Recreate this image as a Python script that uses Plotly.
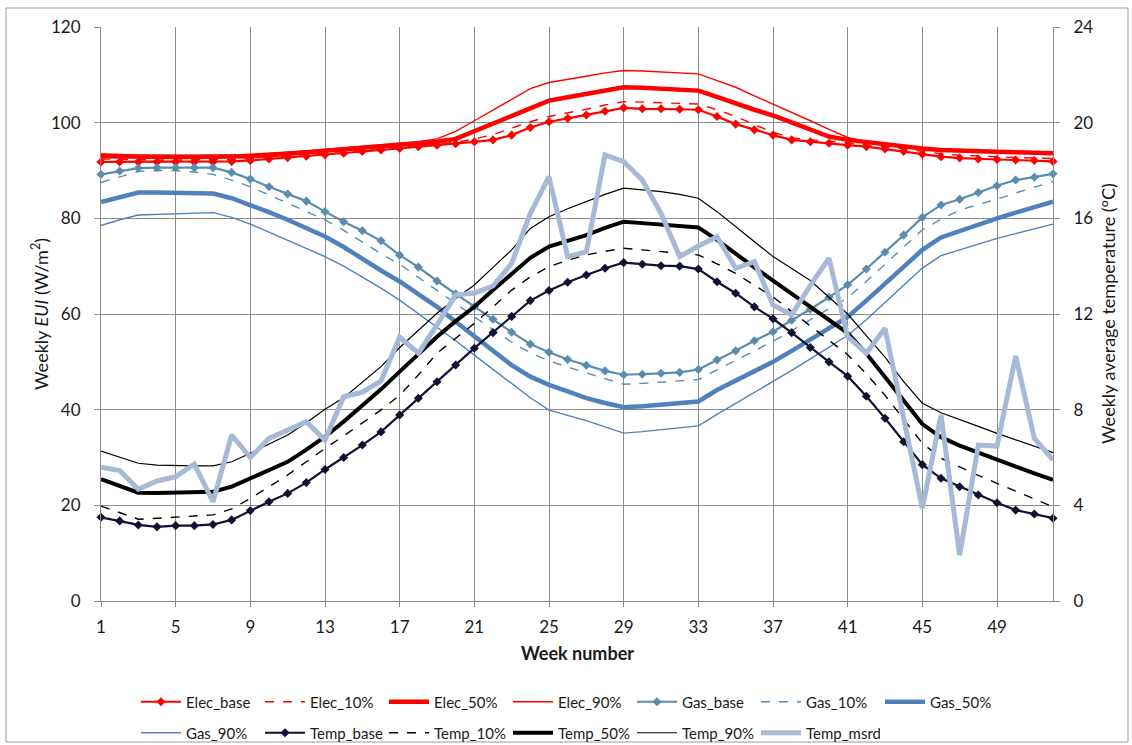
import plotly.graph_objects as go

weeks = list(range(1, 53))

elec_base = [91.8, 91.8, 91.8, 91.8, 91.8, 91.8, 91.8, 91.9, 92.1, 92.4,
             92.7, 93.0, 93.3, 93.6, 94.0, 94.3, 94.6, 95.0, 95.3, 95.6,
             96.0, 96.4, 97.4, 99.0, 100.2, 100.9, 101.6, 102.4, 103.1, 102.9,
             102.9, 102.8, 102.7, 101.3, 99.7, 98.5, 97.4, 96.4, 96.0, 95.7,
             95.3, 95.0, 94.5, 94.0, 93.4, 92.9, 92.6, 92.4, 92.3, 92.2,
             92.1, 91.9]
elec_10 = [92.4, 92.3, 92.2, 92.2, 92.2, 92.2, 92.2, 92.3, 92.5, 92.8,
           93.0, 93.3, 93.6, 93.9, 94.3, 94.6, 94.9, 95.2, 95.5, 95.9,
           96.6, 97.5, 98.8, 100.2, 101.3, 102.0, 102.8, 103.7, 104.4, 104.3,
           104.2, 104.1, 103.9, 102.7, 101.3, 99.6, 98.0, 96.8, 96.4, 96.1,
           95.8, 95.4, 95.0, 94.5, 94.0, 93.5, 93.2, 93.0, 92.8, 92.7,
           92.6, 92.5]
elec_50 = [93.0, 92.9, 92.8, 92.8, 92.8, 92.8, 92.8, 92.8, 93.0, 93.2,
           93.5, 93.8, 94.1, 94.4, 94.7, 95.0, 95.3, 95.6, 96.0, 96.6,
           98.2, 99.9, 101.5, 103.2, 104.6, 105.3, 106.0, 106.8, 107.4, 107.3,
           107.1, 106.9, 106.7, 105.4, 104.0, 102.7, 101.5, 100.0, 98.5, 97.1,
           96.4, 95.9, 95.4, 95.0, 94.6, 94.3, 94.1, 94.0, 93.9, 93.8,
           93.7, 93.6]
elec_90 = [93.5, 93.3, 93.2, 93.2, 93.2, 93.2, 93.2, 93.2, 93.4, 93.6,
           93.9, 94.1, 94.4, 94.7, 95.0, 95.3, 95.6, 96.0, 96.6, 98.2,
           100.4, 102.6, 104.9, 107.1, 108.4, 109.0, 109.7, 110.4, 110.9, 110.8,
           110.6, 110.4, 110.2, 108.8, 107.4, 105.6, 103.9, 102.1, 100.4, 98.6,
           96.9, 96.0, 95.5, 95.1, 94.7, 94.4, 94.2, 94.0, 93.9, 93.8,
           93.7, 93.6]

gas_base = [89.2, 89.9, 90.5, 90.6, 90.6, 90.6, 90.6, 89.6, 88.2, 86.6,
            85.1, 83.6, 81.4, 79.3, 77.4, 75.3, 72.3, 69.8, 66.9, 64.2,
            61.5, 58.9, 56.2, 53.7, 52.0, 50.5, 49.3, 48.1, 47.3, 47.4,
            47.6, 47.8, 48.4, 50.4, 52.3, 54.4, 56.3, 58.7, 61.0, 63.5,
            66.1, 69.4, 72.9, 76.5, 80.2, 82.8, 84.0, 85.4, 86.8, 88.0,
            88.6, 89.3]
gas_10 = [87.5, 88.7, 89.8, 90.0, 90.0, 89.7, 89.2, 88.0, 86.6, 84.9,
          83.2, 81.5, 79.7, 77.5, 75.0, 72.6, 70.4, 67.7, 65.0, 62.2,
          59.4, 56.7, 54.1, 51.9, 50.2, 48.9, 47.7, 46.5, 45.3, 45.5,
          45.8, 46.0, 46.3, 48.3, 50.3, 52.3, 54.3, 56.5, 58.8, 61.1,
          63.4, 66.8, 70.4, 74.0, 77.6, 79.8, 81.7, 82.9, 84.0, 85.3,
          86.5, 87.7]
gas_50 = [83.4, 84.5, 85.4, 85.4, 85.3, 85.2, 85.2, 84.2, 82.8, 81.3,
          79.7, 78.0, 76.2, 74.0, 71.5, 69.1, 66.8, 64.1, 61.5, 58.4,
          55.3, 52.3, 49.3, 46.9, 45.2, 43.8, 42.4, 41.4, 40.5, 40.7,
          41.0, 41.3, 41.7, 44.1, 46.0, 48.0, 50.0, 52.3, 54.6, 56.9,
          59.4, 62.8, 66.4, 70.0, 73.4, 76.0, 77.4, 78.7, 80.0, 81.2,
          82.4, 83.5]
gas_90 = [78.5, 79.7, 80.7, 80.8, 80.9, 81.0, 81.2, 80.2, 78.8, 77.1,
          75.4, 73.7, 72.0, 70.0, 67.7, 65.4, 62.9, 60.1, 57.3, 54.4,
          51.4, 48.4, 45.5, 42.5, 39.9, 38.8, 37.7, 36.4, 35.1, 35.4,
          35.8, 36.2, 36.6, 39.0, 41.3, 43.6, 45.8, 48.2, 50.6, 53.0,
          55.5, 58.8, 62.3, 66.0, 69.6, 72.2, 73.4, 74.6, 75.8, 76.8,
          77.8, 78.8]

temp_base = [3.5, 3.35, 3.18, 3.1, 3.15, 3.15, 3.2, 3.39, 3.78, 4.15,
             4.5, 4.95, 5.5, 6.0, 6.52, 7.07, 7.78, 8.48, 9.17, 9.87,
             10.57, 11.22, 11.9, 12.56, 12.98, 13.33, 13.63, 13.91, 14.15, 14.08,
             14.02, 14.0, 13.88, 13.35, 12.87, 12.3, 11.8, 11.22, 10.6, 10.0,
             9.4, 8.56, 7.64, 6.66, 5.7, 5.13, 4.78, 4.43, 4.11, 3.8,
             3.64, 3.46]
temp_10 = [3.97, 3.68, 3.42, 3.46, 3.5, 3.55, 3.6, 3.85, 4.29, 4.78,
           5.27, 5.82, 6.38, 6.9, 7.45, 7.99, 8.6, 9.45, 10.36, 11.0,
           11.61, 12.3, 13.0, 13.55, 13.98, 14.25, 14.47, 14.62, 14.75, 14.68,
           14.6, 14.55, 14.47, 14.1, 13.7, 13.2, 12.72, 12.1, 11.5, 10.9,
           10.3, 9.5, 8.6, 7.6, 6.6, 5.97, 5.6, 5.25, 4.92, 4.6,
           4.27, 3.94]
temp_50 = [5.1, 4.8, 4.53, 4.52, 4.53, 4.55, 4.57, 4.78, 5.13, 5.47,
           5.82, 6.33, 6.87, 7.5, 8.15, 8.85, 9.59, 10.32, 11.05, 11.7,
           12.3, 13.0, 13.7, 14.35, 14.82, 15.05, 15.3, 15.6, 15.86, 15.8,
           15.75, 15.7, 15.62, 15.1, 14.5, 13.95, 13.4, 12.85, 12.3, 11.75,
           11.2, 10.35, 9.38, 8.4, 7.4, 6.85, 6.5, 6.2, 5.9, 5.62,
           5.34, 5.06]
temp_90 = [6.27, 6.0, 5.76, 5.68, 5.65, 5.65, 5.65, 5.82, 6.18, 6.55,
           6.94, 7.45, 8.02, 8.5, 9.14, 9.8, 10.6, 11.32, 12.03, 12.65,
           13.21, 13.95, 14.68, 15.58, 16.07, 16.4, 16.7, 17.0, 17.26, 17.2,
           17.12, 17.0, 16.84, 16.28, 15.65, 15.0, 14.4, 13.9, 13.4, 12.7,
           12.0, 11.1, 10.2, 9.17, 8.27, 7.87, 7.6, 7.3, 7.01, 6.75,
           6.47, 6.2]
temp_msrd = [5.59, 5.45, 4.67, 5.02, 5.2, 5.72, 4.15, 6.94, 6.0, 6.8,
             7.15, 7.5, 6.73, 8.54, 8.73, 9.2, 11.03, 10.36, 11.54, 12.8,
             12.87, 13.17, 14.12, 16.2, 17.74, 14.4, 14.6, 18.65, 18.37, 17.6,
             16.21, 14.4, 14.84, 15.23, 13.91, 14.19, 12.38, 11.96, 13.2, 14.33,
             11.05, 10.36, 11.4, 7.6, 3.88, 7.78, 1.92, 6.52, 6.48, 10.24,
             6.8, 5.9]

x_ticks = list(range(1, 53, 4))
left_ticks = [0, 20, 40, 60, 80, 100, 120]
right_ticks = [0, 4, 8, 12, 16, 20, 24]

RED = "#FF0000"
GAS = "#4F81BD"
GASB = "#5A8CAF"
BLK = "#000000"
MSRD = "#A7B9D7"
FONT = "Lato"
GRID = "#8C8C8C"

# (name, data, yaxis, color, width, dash, marker, legend)
series = [
    ("Elec_base", elec_base, "y", RED, 2.2, "solid", True, "legend"),
    ("Elec_10%", elec_10, "y", RED, 1.4, "dash", False, "legend"),
    ("Elec_50%", elec_50, "y", RED, 4.5, "solid", False, "legend"),
    ("Elec_90%", elec_90, "y", RED, 1.4, "solid", False, "legend"),
    ("Gas_base", gas_base, "y", GASB, 2.2, "solid", True, "legend"),
    ("Gas_10%", gas_10, "y", GASB, 1.4, "dash", False, "legend"),
    ("Gas_50%", gas_50, "y", GAS, 4.5, "solid", False, "legend"),
    ("Gas_90%", gas_90, "y", GAS, 1.4, "solid", False, "legend2"),
    ("Temp_base", temp_base, "y2", "#111133", 2.2, "solid", True, "legend2"),
    ("Temp_10%", temp_10, "y2", BLK, 1.4, "dash", False, "legend2"),
    ("Temp_50%", temp_50, "y2", BLK, 4.0, "solid", False, "legend2"),
    ("Temp_90%", temp_90, "y2", BLK, 1.2, "solid", False, "legend2"),
    ("Temp_msrd", temp_msrd, "y2", MSRD, 5.0, "solid", False, "legend2"),
]

fig = go.Figure()
for name, data, yax, color, width, dash, mk, leg in series:
    fig.add_trace(go.Scatter(
        x=weeks, y=data, name=name, yaxis=yax, legend=leg,
        mode="lines+markers" if mk else "lines",
        line=dict(color=color, width=width, dash=dash),
        marker=dict(symbol="diamond", size=7, color=color),
        cliponaxis=False,
    ))

axis_common = dict(
    showline=True, linecolor=GRID, linewidth=1,
    ticks="outside", tickcolor=GRID, zeroline=False,
    tickfont=dict(size=17),
)

legend_common = dict(
    orientation="h", xref="container", yref="container",
    xanchor="left", yanchor="middle",
    font=dict(size=15), bgcolor="rgba(0,0,0,0)", itemwidth=40,
    entrywidth=69, entrywidthmode="pixels",
)

fig.update_layout(
    width=1132, height=745,
    margin=dict(l=101, r=79, t=27, b=144),
    paper_bgcolor="white", plot_bgcolor="white",
    font=dict(family=FONT, size=16, color="#1a1a1a"),
    xaxis=dict(
        range=[1, 52], tickmode="array", tickvals=x_ticks,
        showgrid=True, gridcolor=GRID, gridwidth=1,
        ticklen=5, ticklabelstandoff=6, **axis_common,
    ),
    yaxis=dict(
        range=[0, 120], tickmode="array", tickvals=left_ticks,
        showgrid=True, gridcolor=GRID, gridwidth=1,
        ticklen=6, ticklabelstandoff=10, **axis_common,
    ),
    yaxis2=dict(
        range=[0, 24], tickmode="array", tickvals=right_ticks,
        overlaying="y", side="right", showgrid=False,
        ticklen=6, ticklabelstandoff=10, **axis_common,
    ),
    legend=dict(x=136 / 1132, y=1 - 702 / 745, **legend_common),
    legend2=dict(x=136 / 1132, y=1 - 733 / 745, **legend_common),
    showlegend=True,
)

fig.add_annotation(text="Weekly <i>EUI</i> (W/m<sup>2</sup>)", textangle=-90,
                   xref="paper", yref="paper", x=(40 - 101) / 952, y=0.5,
                   xanchor="center", yanchor="middle",
                   showarrow=False, font=dict(size=18))
fig.add_annotation(text="Weekly average temperature (°C)", textangle=-90,
                   xref="paper", yref="paper", x=(1108 - 101) / 952, y=0.5,
                   xanchor="center", yanchor="middle",
                   showarrow=False, font=dict(size=18))
fig.add_annotation(text="<b>Week number</b>",
                   xref="paper", yref="paper", x=0.5, y=(601 - 653) / 574,
                   xanchor="center", yanchor="middle",
                   showarrow=False, font=dict(size=18))

fig.add_shape(type="rect", xref="paper", yref="paper",
              x0=(6 - 101) / 952, x1=(1128 - 101) / 952,
              y0=(601 - 742) / 574, y1=(601 - 8) / 574,
              line=dict(color="#9A9A9A", width=1), layer="below")

fig.write_html("out.html")
